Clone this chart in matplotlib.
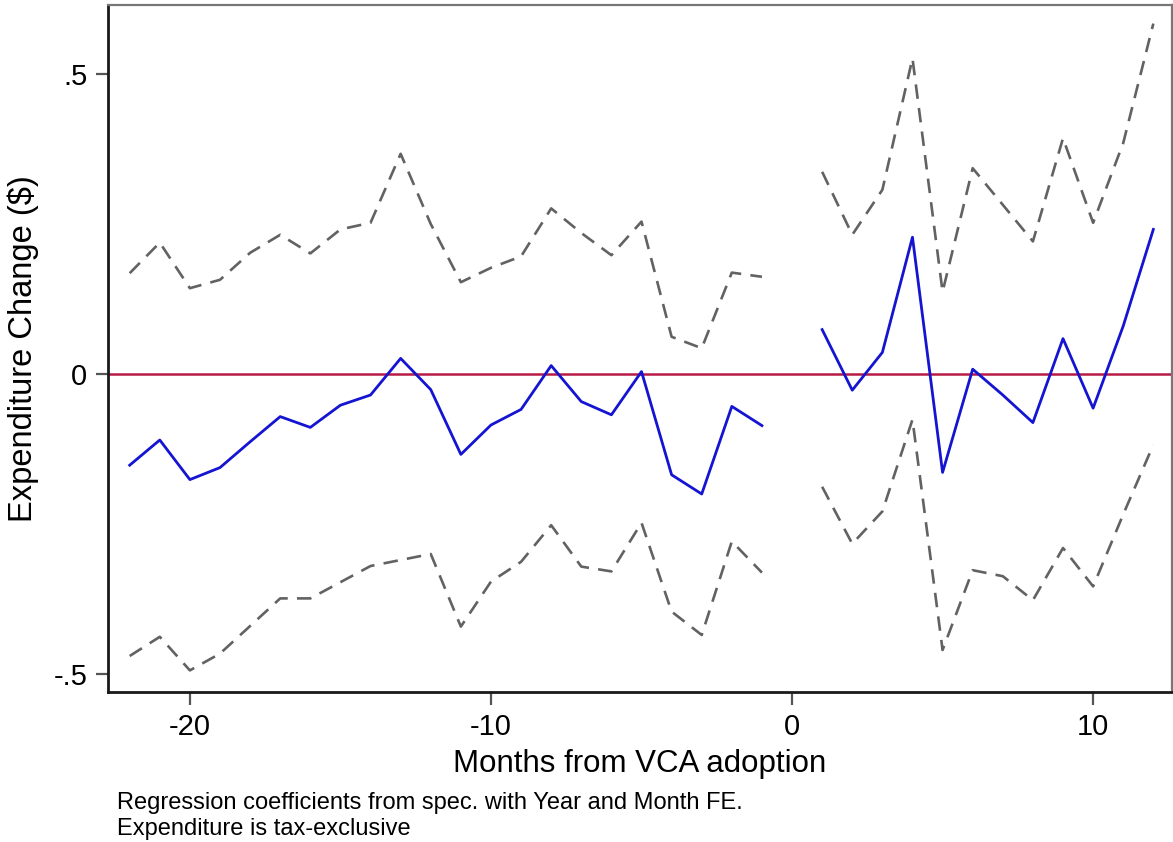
import matplotlib
matplotlib.use("Agg")
import matplotlib.pyplot as plt
from matplotlib.ticker import FixedLocator, FixedFormatter

plt.rcParams["font.family"] = ["Liberation Sans", "DejaVu Sans"]

# Event-time months (month 0 omitted as the reference period)
months_pre = [-22, -21, -20, -19, -18, -17, -16, -15, -14, -13, -12,
              -11, -10, -9, -8, -7, -6, -5, -4, -3, -2, -1]
months_post = [1, 2, 3, 4, 5, 6, 7, 8, 9, 10, 11, 12]

# Point estimates
coef_pre = [-0.152, -0.110, -0.176, -0.156, -0.113, -0.071, -0.089, -0.052,
            -0.035, 0.026, -0.026, -0.134, -0.085, -0.059, 0.014, -0.046,
            -0.068, 0.004, -0.168, -0.200, -0.054, -0.086]
coef_post = [0.074, -0.027, 0.036, 0.228, -0.164, 0.008, -0.035, -0.081,
             0.059, -0.057, 0.080, 0.241]

# Upper confidence bound
upper_pre = [0.168, 0.219, 0.143, 0.157, 0.202, 0.232, 0.201, 0.241, 0.252,
             0.367, 0.250, 0.153, 0.177, 0.196, 0.276, 0.235, 0.198, 0.254,
             0.062, 0.043, 0.169, 0.162]
upper_post = [0.337, 0.232, 0.307, 0.526, 0.137, 0.343, 0.282, 0.221, 0.393,
              0.252, 0.385, 0.584]

# Lower confidence bound
lower_pre = [-0.470, -0.438, -0.494, -0.466, -0.420, -0.374, -0.374, -0.347,
             -0.320, -0.310, -0.300, -0.421, -0.346, -0.313, -0.252, -0.321,
             -0.329, -0.248, -0.396, -0.435, -0.279, -0.331]
lower_post = [-0.188, -0.283, -0.229, -0.076, -0.460, -0.327, -0.337, -0.377,
              -0.290, -0.354, -0.234, -0.118]

y_ticks = [-0.5, 0, 0.5]
y_tick_labels = ["-.5", "0", ".5"]
x_ticks = [-20, -10, 0, 10]
x_tick_labels = ["-20", "-10", "0", "10"]

W, H = 1173, 842
fig = plt.figure(figsize=(W / 100, H / 100), dpi=100)
ax = fig.add_axes([108 / W, 1 - 692 / H, (1172 - 108) / W, (692 - 5) / H])

blue = "#1414d2"
grey = "#626262"
dash = (0, (5.5, 3.5))

ax.axhline(0, color="#b81a44", lw=1.8, zorder=1)

for xs, c, lo, hi in [(months_pre, coef_pre, lower_pre, upper_pre),
                      (months_post, coef_post, lower_post, upper_post)]:
    ax.plot(xs, hi, color=grey, lw=1.9, linestyle=dash, zorder=2)
    ax.plot(xs, lo, color=grey, lw=1.9, linestyle=dash, zorder=2)
    ax.plot(xs, c, color=blue, lw=2.0, zorder=3)

ax.set_xlim(-22.72, 12.62)
ax.set_ylim(-0.530, 0.615)

ax.yaxis.set_major_locator(FixedLocator(y_ticks))
ax.yaxis.set_major_formatter(FixedFormatter(y_tick_labels))
ax.xaxis.set_major_locator(FixedLocator(x_ticks))
ax.xaxis.set_major_formatter(FixedFormatter(x_tick_labels))

ax.tick_params(axis="both", direction="out", length=9, width=1.6,
               color="#555555", labelsize=21, pad=6)

for side in ["left", "bottom"]:
    ax.spines[side].set_color("#1a1a1a")
    ax.spines[side].set_linewidth(2.0)
for side in ["top", "right"]:
    ax.spines[side].set_color("#777777")
    ax.spines[side].set_linewidth(1.6)

ax.set_xlabel("Months from VCA adoption", fontsize=22.5, labelpad=6)
ax.set_ylabel("Expenditure Change ($)", fontsize=23.5, labelpad=10)

fig.text(117 / W, 1 - 803 / H,
         "Regression coefficients from spec. with Year and Month FE.",
         fontsize=17, va="center", ha="left")
fig.text(117 / W, 1 - 829 / H, "Expenditure is tax-exclusive",
         fontsize=17, va="center", ha="left")

fig.savefig("out.png", dpi=100, facecolor="white")
